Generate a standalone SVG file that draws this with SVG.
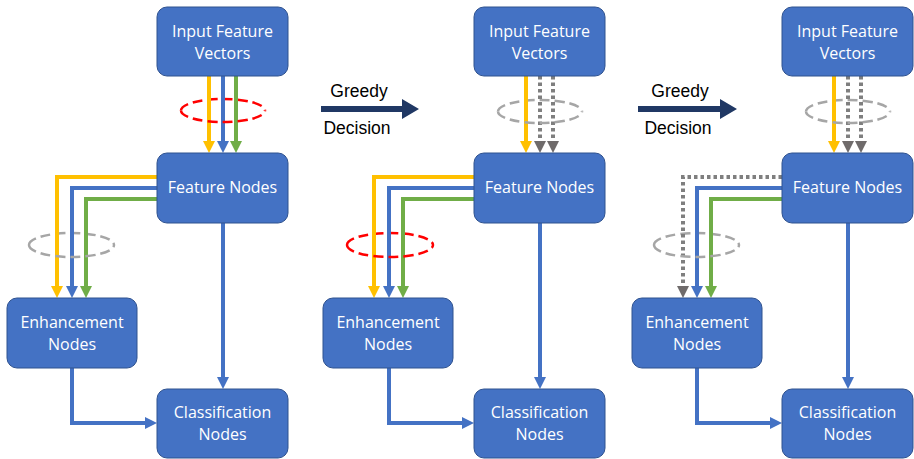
<svg xmlns="http://www.w3.org/2000/svg" width="914" height="459" viewBox="0 0 914 459">
  <style>
    .node rect { fill: #4472C4; stroke: #2F528F; stroke-width: 1; }
    .node text { fill: #FFFFFF; font-family: "Open Sans", "Liberation Sans", sans-serif; font-size: 16px; text-anchor: middle; }
    .lbl { fill: #000000; font-family: "Liberation Sans", Arial, sans-serif; font-size: 17.5px; text-anchor: middle; }
    .c { fill: none; stroke-width: 4; stroke-linejoin: miter; }
    .y { stroke: #FFC000; }
    .b { stroke: #4472C4; }
    .g { stroke: #70AD47; }
    .d { stroke: #7F7F7F; stroke-dasharray: 3.5 3; }
    .ring-red { fill: none; stroke: #FF0000; stroke-width: 2.5; stroke-dasharray: 10 5; }
    .ring-gray { fill: none; stroke: #A6A6A6; stroke-width: 2.5; stroke-dasharray: 10 5; }
    .big { fill: #203864; }
  </style>
  <defs>
    <marker id="hY" markerUnits="userSpaceOnUse" markerWidth="12" markerHeight="12" refX="0" refY="6" orient="auto">
      <path d="M0,0 L12,6 L0,12 Z" fill="#FFC000"/>
    </marker>
    <marker id="hB" markerUnits="userSpaceOnUse" markerWidth="12" markerHeight="12" refX="0" refY="6" orient="auto">
      <path d="M0,0 L12,6 L0,12 Z" fill="#4472C4"/>
    </marker>
    <marker id="hG" markerUnits="userSpaceOnUse" markerWidth="12" markerHeight="12" refX="0" refY="6" orient="auto">
      <path d="M0,0 L12,6 L0,12 Z" fill="#70AD47"/>
    </marker>
    <marker id="hD" markerUnits="userSpaceOnUse" markerWidth="12" markerHeight="12" refX="0" refY="6" orient="auto">
      <path d="M0,0 L12,6 L0,12 Z" fill="#6F6B6B"/>
    </marker>
  </defs>

  <!-- back halves of the rings (behind the connectors) -->
  <g id="rings-back">
    <path class="ring-red" d="M181,110.5 A42,11.5 0 0 1 265,110.5"/>
    <path class="ring-gray" d="M29,245 A42.5,12 0 0 1 114,245"/>
    <path class="ring-gray" d="M498,111.5 A42,11.5 0 0 1 582,111.5"/>
    <path class="ring-red" d="M347,245 A43,12 0 0 1 433,245"/>
    <path class="ring-gray" d="M806,111.5 A42,11.5 0 0 1 890,111.5"/>
    <path class="ring-gray" d="M654,245 A42.5,12 0 0 1 739,245"/>
  </g>

  <g id="connectors">
    <!-- panel 1 -->
    <path class="c y" d="M209,76 V141" marker-end="url(#hY)"/>
    <path class="c b" d="M223,76 V141" marker-end="url(#hB)"/>
    <path class="c g" d="M236,76 V141" marker-end="url(#hG)"/>
    <path class="c y" d="M157,177 H57 V286" marker-end="url(#hY)"/>
    <path class="c b" d="M157,188 H72 V286" marker-end="url(#hB)"/>
    <path class="c g" d="M157,199 H86 V286" marker-end="url(#hG)"/>
    <path class="c b" d="M223,223 V377" marker-end="url(#hB)"/>
    <path class="c b" d="M72,368 V423 H145" marker-end="url(#hB)"/>

    <!-- panel 2 -->
    <path class="c y" d="M526,76 V141" marker-end="url(#hY)"/>
    <path class="c d" d="M540,76 V141" marker-end="url(#hD)"/>
    <path class="c d" d="M553,76 V141" marker-end="url(#hD)"/>
    <path class="c y" d="M474,177 H374 V286" marker-end="url(#hY)"/>
    <path class="c b" d="M474,188 H389 V286" marker-end="url(#hB)"/>
    <path class="c g" d="M474,199 H403 V286" marker-end="url(#hG)"/>
    <path class="c b" d="M540,223 V377" marker-end="url(#hB)"/>
    <path class="c b" d="M389,368 V423 H462" marker-end="url(#hB)"/>

    <!-- panel 3 -->
    <path class="c y" d="M834,76 V141" marker-end="url(#hY)"/>
    <path class="c d" d="M848,76 V141" marker-end="url(#hD)"/>
    <path class="c d" d="M861,76 V141" marker-end="url(#hD)"/>
    <path class="c d" d="M782,177 H683 V286" marker-end="url(#hD)"/>
    <path class="c b" d="M782,188 H697 V286" marker-end="url(#hB)"/>
    <path class="c g" d="M782,199 H711 V286" marker-end="url(#hG)"/>
    <path class="c b" d="M848,223 V377" marker-end="url(#hB)"/>
    <path class="c b" d="M697,368 V423 H770" marker-end="url(#hB)"/>
  </g>

  <!-- front halves of the rings -->
  <g id="rings-front">
    <path class="ring-red" d="M181,110.5 A42,11.5 0 0 0 265,110.5"/>
    <path class="ring-gray" d="M29,245 A42.5,12 0 0 0 114,245"/>
    <path class="ring-gray" d="M498,111.5 A42,11.5 0 0 0 582,111.5"/>
    <path class="ring-red" d="M347,245 A43,12 0 0 0 433,245"/>
    <path class="ring-gray" d="M806,111.5 A42,11.5 0 0 0 890,111.5"/>
    <path class="ring-gray" d="M654,245 A42.5,12 0 0 0 739,245"/>
  </g>

  <!-- panel 1 nodes -->
  <g id="p1-input" class="node">
    <rect x="157" y="7" width="131" height="69" rx="10"/>
    <text x="222.5" y="37">Input Feature</text>
    <text x="222.5" y="59">Vectors</text>
  </g>
  <g id="p1-feature" class="node">
    <rect x="157" y="153" width="131" height="70" rx="10"/>
    <text x="222.5" y="193">Feature Nodes</text>
  </g>
  <g id="p1-enhancement" class="node">
    <rect x="7" y="298" width="130" height="70" rx="10"/>
    <text x="72" y="328">Enhancement</text>
    <text x="72" y="350">Nodes</text>
  </g>
  <g id="p1-classification" class="node">
    <rect x="157" y="389" width="131" height="69" rx="10"/>
    <text x="222.5" y="418">Classification</text>
    <text x="222.5" y="440">Nodes</text>
  </g>

  <!-- panel 2 nodes -->
  <g id="p2-input" class="node">
    <rect x="474" y="7" width="131" height="69" rx="10"/>
    <text x="539.5" y="37">Input Feature</text>
    <text x="539.5" y="59">Vectors</text>
  </g>
  <g id="p2-feature" class="node">
    <rect x="474" y="153" width="131" height="70" rx="10"/>
    <text x="539.5" y="193">Feature Nodes</text>
  </g>
  <g id="p2-enhancement" class="node">
    <rect x="323" y="298" width="130" height="70" rx="10"/>
    <text x="388" y="328">Enhancement</text>
    <text x="388" y="350">Nodes</text>
  </g>
  <g id="p2-classification" class="node">
    <rect x="474" y="389" width="131" height="69" rx="10"/>
    <text x="539.5" y="418">Classification</text>
    <text x="539.5" y="440">Nodes</text>
  </g>

  <!-- panel 3 nodes -->
  <g id="p3-input" class="node">
    <rect x="782" y="7" width="131" height="69" rx="10"/>
    <text x="847.5" y="37">Input Feature</text>
    <text x="847.5" y="59">Vectors</text>
  </g>
  <g id="p3-feature" class="node">
    <rect x="782" y="153" width="131" height="70" rx="10"/>
    <text x="847.5" y="193">Feature Nodes</text>
  </g>
  <g id="p3-enhancement" class="node">
    <rect x="632" y="298" width="130" height="70" rx="10"/>
    <text x="697" y="328">Enhancement</text>
    <text x="697" y="350">Nodes</text>
  </g>
  <g id="p3-classification" class="node">
    <rect x="782" y="389" width="131" height="69" rx="10"/>
    <text x="847.5" y="418">Classification</text>
    <text x="847.5" y="440">Nodes</text>
  </g>

  <!-- greedy decision steps -->
  <g id="step-1">
    <path class="big" d="M321,106 H402 V99 L419,109 L402,119 V112 H321 Z"/>
    <text class="lbl" x="359" y="97">Greedy</text>
    <text class="lbl" x="357" y="134">Decision</text>
  </g>
  <g id="step-2">
    <path class="big" d="M638,106 H720 V99 L737,109 L720,119 V112 H638 Z"/>
    <text class="lbl" x="680" y="97">Greedy</text>
    <text class="lbl" x="678" y="134">Decision</text>
  </g>
</svg>
